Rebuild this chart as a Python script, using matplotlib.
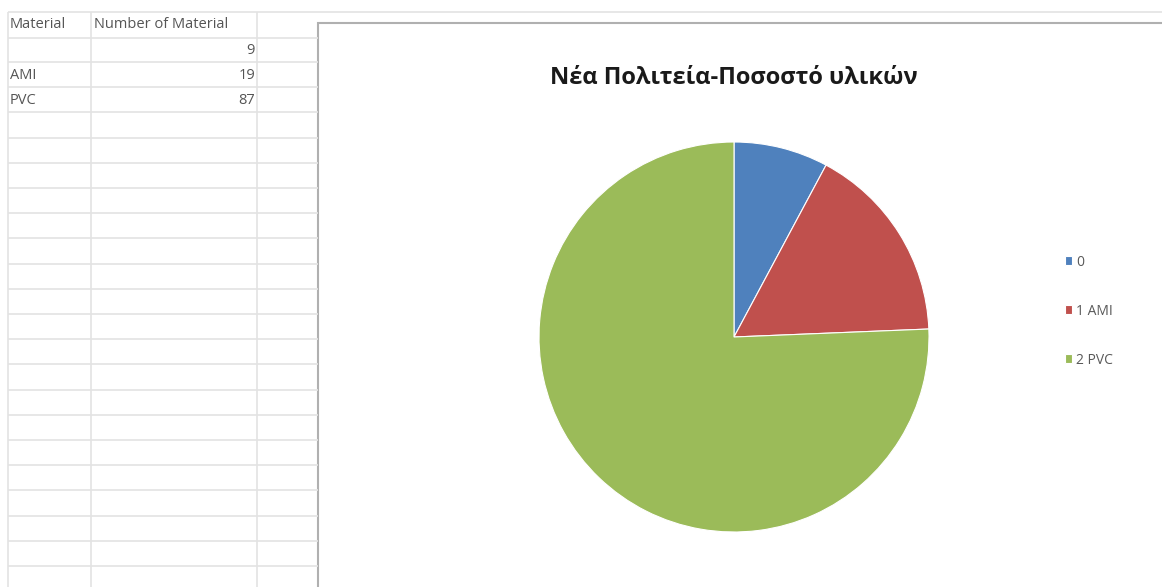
import numpy as np
import matplotlib.pyplot as plt
from matplotlib.patches import Rectangle

plt.rcParams['font.family'] = ['Open Sans', 'DejaVu Sans']

# sheet contents
materials = ["", "AMI", "PVC"]
counts = [9, 19, 87]
legend_labels = ["0", "1 AMI", "2 PVC"]
title = "Νέα Πολιτεία-Ποσοστό υλικών"
colors = ["#4F81BD", "#C0504D", "#9BBB59"]

W, H = 1162, 587
fig = plt.figure(figsize=(W / 100, H / 100), dpi=100)

# background sheet in pixel coordinates
sheet = fig.add_axes([0, 0, 1, 1])
sheet.set_xlim(0, W)
sheet.set_ylim(H, 0)
sheet.axis('off')

grid_c = "#e3e3e3"
row_y = [12, 38] + list(np.arange(62, H + 1, 25.2))
sheet.hlines(row_y, 8, 318, color=grid_c, lw=1.2)
sheet.hlines(12, 318, W, color=grid_c, lw=1.2)
sheet.vlines([8, 91, 257], 12, H, color=grid_c, lw=1.2)

txt = dict(fontsize=10.5, color="#555555", va="center")
sheet.text(10, 25, "Material", ha="left", **txt)
sheet.text(94, 25, "Number of Material", ha="left", **txt)
for i, (m, c) in enumerate(zip(materials, counts)):
    y = 50 + i * 25.5
    sheet.text(10, y, m, ha="left", **txt)
    sheet.text(255, y, str(c), ha="right", **txt)

# chart area
sheet.add_patch(Rectangle((318, 23), W, H, facecolor="white",
                          edgecolor="#b0b0b0", lw=1.5))
sheet.text(734, 78, title, ha="center", va="center", fontsize=17,
           fontweight="bold", color="#1a1a1a")

cx, cy, r = 734, 337, 195
pie_ax = fig.add_axes([(cx - r) / W, (H - cy - r) / H, 2 * r / W, 2 * r / H])
wedges, _ = pie_ax.pie(counts, colors=colors, startangle=90, counterclock=False,
                       wedgeprops=dict(edgecolor="white", linewidth=0.8))
pie_ax.set_xlim(-1, 1)
pie_ax.set_ylim(-1, 1)
pie_ax.set_aspect('equal')

sheet.legend(wedges, legend_labels, loc="upper left",
             bbox_to_anchor=(1052 / W, 1 - 242 / H), frameon=False,
             fontsize=10, labelspacing=2.45, handlelength=0.55,
             handleheight=0.55, handletextpad=0.3, labelcolor="#595959")

fig.savefig("out.png", dpi=100)
